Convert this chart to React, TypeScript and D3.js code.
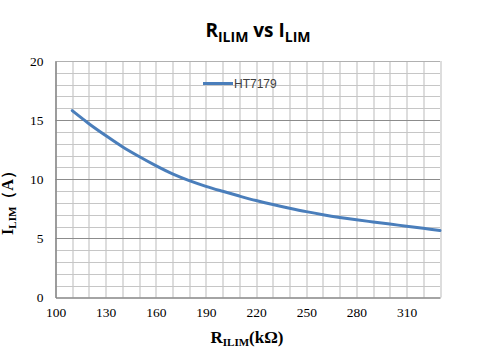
import React, {useEffect, useRef} from 'react';
import * as d3 from 'd3';

// R_ILIM (kOhm) vs I_LIM (A)
const rilim = [110, 120, 130, 140, 150, 160, 170, 180, 190, 200, 210, 220, 230, 240, 250, 260, 270, 280, 290, 300, 310, 320, 330];
const ilim = [15.8, 14.7, 13.7, 12.75, 11.92, 11.15, 10.45, 9.88, 9.4, 8.98, 8.58, 8.2, 7.86, 7.55, 7.26, 7.0, 6.77, 6.57, 6.39, 6.21, 6.03, 5.85, 5.67];
const xTicks = [100, 130, 160, 190, 220, 250, 280, 310];
const yTicks = [0, 5, 10, 15, 20];
const seriesName = 'HT7179';

const W = 481, H = 362;
const margin = {top: 61, right: 41, bottom: 64.5, left: 55.5};

const draw = (node: SVGSVGElement) => {
    const svg = d3.select(node);
    svg.selectAll('*').remove();

    const width = W - margin.left - margin.right;
    const height = H - margin.top - margin.bottom;

    const x = d3.scaleLinear().domain([100, 330]).range([0, width]);
    const y = d3.scaleLinear().domain([0, 20]).range([height, 0]);

    svg.append('rect').attr('width', W).attr('height', H).attr('fill', '#fff');

    // title
    const title = svg.append('text')
        .attr('x', 258).attr('y', 37)
        .attr('text-anchor', 'middle')
        .style('font-family', '"Open Sans", "Liberation Sans", sans-serif')
        .style('font-weight', 'bold')
        .style('font-size', '19px')
        .attr('fill', '#000');
    title.append('tspan').text('R');
    title.append('tspan').attr('dy', 5).style('font-size', '14px').text('ILIM');
    title.append('tspan').attr('dy', -5).text(' vs I');
    title.append('tspan').attr('dy', 5).style('font-size', '14px').text('LIM');

    const g = svg.append('g')
        .attr('transform', 'translate(' + margin.left + ',' + margin.top + ')');

    // minor grid, every 10 on x and 1 on y
    g.append('g').selectAll('line')
        .data(d3.range(100, 331, 10))
        .enter().append('line')
        .attr('x1', d => Math.round(x(d)) + 0.5).attr('x2', d => Math.round(x(d)) + 0.5)
        .attr('y1', 0).attr('y2', height)
        .attr('stroke', '#c6c6c6').attr('stroke-width', 1.2);
    g.append('g').selectAll('line')
        .data(d3.range(1, 21).filter(d => d % 5 !== 0))
        .enter().append('line')
        .attr('x1', 0).attr('x2', width)
        .attr('y1', d => Math.round(y(d)) + 0.5).attr('y2', d => Math.round(y(d)) + 0.5)
        .attr('stroke', '#c6c6c6').attr('stroke-width', 1.2);
    // major horizontal lines
    g.append('g').selectAll('line')
        .data([5, 10, 15, 20])
        .enter().append('line')
        .attr('x1', 0).attr('x2', width)
        .attr('y1', d => Math.round(y(d)) + 0.5).attr('y2', d => Math.round(y(d)) + 0.5)
        .attr('stroke', d => d === 20 ? '#b0b0b0' : '#8c8c8c').attr('stroke-width', 1.2);

    // axes
    const xAxis = g.append('g')
        .attr('transform', 'translate(0,' + height + ')')
        .call(d3.axisBottom(x).tickValues(xTicks).tickSize(0).tickPadding(10));
    xAxis.select('.domain').attr('stroke', '#868686').attr('stroke-width', 1.5);
    const yAxis = g.append('g')
        .call(d3.axisLeft(y).tickValues(yTicks).tickSize(0).tickPadding(12));
    yAxis.select('.domain').attr('stroke', '#868686').attr('stroke-width', 1.5);
    g.selectAll('.tick text')
        .style('font-family', '"Liberation Serif", "Times New Roman", serif')
        .style('font-size', '13.5px')
        .attr('fill', '#000');

    // curve
    const line = d3.line<number>()
        .x((d, i) => x(rilim[i]))
        .y(d => y(d))
        .curve(d3.curveCatmullRom);
    g.append('path')
        .datum(ilim)
        .attr('d', line)
        .attr('fill', 'none')
        .attr('stroke', '#4a7ebb')
        .attr('stroke-width', 3)
        .attr('stroke-linecap', 'round')
        .attr('stroke-linejoin', 'round');

    // legend
    svg.append('line')
        .attr('x1', 203).attr('x2', 233).attr('y1', 83.5).attr('y2', 83.5)
        .attr('stroke', '#4a7ebb').attr('stroke-width', 3);
    svg.append('text')
        .attr('x', 234).attr('y', 87.5)
        .style('font-family', '"Liberation Sans", Arial, sans-serif')
        .style('font-size', '12px')
        .attr('fill', '#404040')
        .text(seriesName);

    // x axis title
    const xt = svg.append('text')
        .attr('x', 247).attr('y', 343)
        .attr('text-anchor', 'middle')
        .style('font-family', '"Liberation Serif", "Times New Roman", serif')
        .style('font-weight', 'bold')
        .style('font-size', '17px')
        .attr('fill', '#000');
    xt.append('tspan').text('R');
    xt.append('tspan').attr('dy', 3).style('font-size', '11px').text('ILIM');
    xt.append('tspan').attr('dy', -3).text('(kΩ)');

    // y axis title, sitting at the left edge like the reference
    const yt = svg.append('text')
        .attr('transform', 'translate(13,199) rotate(-90)')
        .attr('text-anchor', 'middle')
        .style('font-family', '"Liberation Serif", "Times New Roman", serif')
        .style('font-weight', 'bold')
        .style('font-size', '16px')
        .attr('fill', '#000');
    yt.append('tspan').text('I');
    yt.append('tspan').attr('dy', 3).style('font-size', '11px').text('LIM');
    yt.append('tspan').attr('dy', -3).text('（A）');
};

const App = () => {
    const ref = useRef<SVGSVGElement>(null);
    useEffect(() => {
        if (ref.current) draw(ref.current);
    }, []);
    return (
        <svg ref={ref} width={W} height={H}
             style={{position: 'absolute', left: 0, top: 0, display: 'block'}}/>
    );
};

export default App;
